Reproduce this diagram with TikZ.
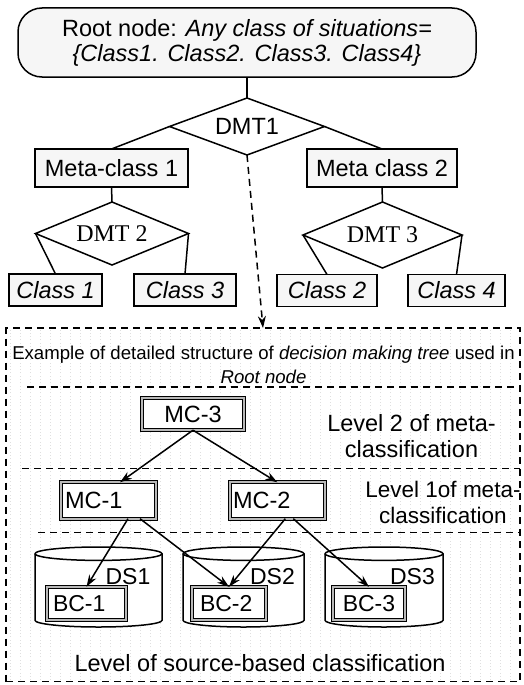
\documentclass[tikz,border=0pt]{standalone}
\usepackage{fontspec}
\setmainfont{Liberation Sans}
\newfontfamily\dmtfont{Liberation Serif}
\usetikzlibrary{shapes.geometric,arrows.meta,calc}

\begin{document}
\begin{tikzpicture}[x=1pt,y=-1pt,
  every node/.style={inner sep=0pt, outer sep=0pt},
  big/.style={font=\fontsize{23.5}{25}\selectfont},
  mid/.style={font=\fontsize{23}{25}\selectfont},
  plainbox/.style={draw, line width=1.5pt, fill=gray!7, big},
  choice/.style={diamond, draw, line width=1.5pt, fill=white},
  dmtlabel/.style={font=\dmtfont\fontsize{24}{26}\selectfont},
  dblbox/.style={draw, line width=1.1pt, double=gray!55, double distance=1.8pt,
                 fill=white, big, align=left},
  link/.style={line width=1.5pt},
  arr/.style={line width=1.5pt, -{Stealth[length=12pt,width=8pt]}},
  dashrule/.style={line width=1.5pt, dash pattern=on 7pt off 5pt},
]
\useasboundingbox (0,0) rectangle (524,685);

% ---------------- upper tree ----------------
\node[plainbox, rounded corners=24pt, minimum width=458pt, minimum height=69pt,
      align=center] (root) at (247,42.5)
  {Root node: \textit{Any class of situations=}\\\textit{\{Class1. Class2. Class3. Class4\}}};

\node[choice, aspect=2.7, minimum width=155pt, minimum height=57pt, big]
  (dmt1) at (247,126.5) {DMT1};

\node[plainbox, minimum width=153pt, minimum height=38pt] (meta1) at (111.5,168) {Meta-class 1};
\node[plainbox, minimum width=150pt, minimum height=38pt] (meta2) at (382,168) {Meta class 2};

\node[choice, aspect=2.4, minimum width=153pt, minimum height=63pt, dmtlabel]
  (dmt2) at (112,233.5) {DMT 2};
\node[choice, aspect=2.4, minimum width=159pt, minimum height=66pt, dmtlabel]
  (dmt3) at (382.5,235) {DMT 3};

\node[plainbox, minimum width=93pt,  minimum height=32pt] (class1) at (55.5,290)  {\textit{Class 1}};
\node[plainbox, minimum width=102pt, minimum height=32pt] (class3) at (185,290)   {\textit{Class 3}};
\node[plainbox, minimum width=100pt, minimum height=32pt] (class2) at (327,290.5) {\textit{Class 2}};
\node[plainbox, minimum width=97pt,  minimum height=32pt] (class4) at (456.5,290.5) {\textit{Class 4}};

\draw[link] (root.south) -- (dmt1.north);
\draw[link] (dmt1.west) -- (meta1.north);
\draw[link] (dmt1.east) -- (meta2.north);
\draw[link] (meta1.south) -- (dmt2.north);
\draw[link] (meta2.south) -- (dmt3.north);
\draw[link] (dmt2.west) -- (class1.north);
\draw[link] (dmt2.east) -- (class3.north);
\draw[link] (dmt3.west) -- (class2.north);
\draw[link] (dmt3.east) -- (class4.north);

% ---------------- detail panel ----------------
\begin{scope}
  \clip (6,328) rectangle (520,681.5);
  \draw[gray!25, line width=0.5pt, dash pattern=on 0.8pt off 2.5pt]
    (0,320) grid[step=10] (530,690);
\end{scope}
\node[draw, dashrule, minimum width=514pt, minimum height=353.5pt]
  (panel) at (263,504.75) {};

\draw[arr, dash pattern=on 7pt off 5pt] (dmt1.south) -- (panel.north);

\node[font=\fontsize{18.6}{24}\selectfont, align=center] (caption) at (263.5,364.6)
  {Example of detailed structure of \textit{decision making tree} used in\\\textit{Root node}};

\draw[dashrule] (27,387) -- (panel.east |- 0,387);
\draw[dashrule] (22,468.3) -- (panel.east |- 0,468.3);
\draw[dashrule] (38,532.7) -- (panel.east |- 0,532.7);

\node[font=\fontsize{23.5}{26}\selectfont, align=center] (lvl2) at (411.5,436.5)
  {Level 2 of meta-\\classification};
\node[font=\fontsize{22.5}{25.7}\selectfont, align=center] (lvl1) at (443,502.7)
  {Level 1of meta-\\classification};

% classifiers of the meta levels
\node[dblbox, align=center, minimum width=102.4pt, minimum height=32.4pt] (mc3) at (193,414) {MC-3};
\node[dblbox, inner xsep=4.2pt, text width=87pt, minimum height=36.4pt] (mc1) at (108.5,500.5) {MC-1};
\node[dblbox, inner xsep=3.2pt, text width=88.6pt, minimum height=36.4pt] (mc2) at (277.3,500.5) {MC-2};

% data sources
\draw[link, fill=white] (35,553.7) -- (35,620.3)
  arc[start angle=180, end angle=360, x radius=63.5pt, y radius=6.7pt] -- (162,553.7)
  arc[start angle=0, end angle=180, x radius=63.5pt, y radius=6.7pt] -- cycle;
\draw[link] (35,553.7) arc[start angle=180, end angle=360, x radius=63.5pt, y radius=6.7pt];

\draw[link, fill=white] (183,553.7) -- (183,620.3)
  arc[start angle=180, end angle=360, x radius=60.5pt, y radius=6.7pt] -- (304,553.7)
  arc[start angle=0, end angle=180, x radius=60.5pt, y radius=6.7pt] -- cycle;
\draw[link] (183,553.7) arc[start angle=180, end angle=360, x radius=60.5pt, y radius=6.7pt];

\draw[link, fill=white] (325,553.7) -- (325,620.3)
  arc[start angle=180, end angle=360, x radius=59pt, y radius=6.7pt] -- (443,553.7)
  arc[start angle=0, end angle=180, x radius=59pt, y radius=6.7pt] -- cycle;
\draw[link] (325,553.7) arc[start angle=180, end angle=360, x radius=59pt, y radius=6.7pt];

\node[mid, anchor=base] (ds1) at (128,584) {DS1};
\node[mid, anchor=base] (ds2) at (272.5,584) {DS2};
\node[mid, anchor=base] (ds3) at (412.5,584) {DS3};

% base classifiers
\node[dblbox, mid, inner xsep=6.2pt, text width=67pt, minimum height=33.4pt] (bc1) at (86.5,603.5) {BC-1};
\node[dblbox, mid, inner xsep=8.2pt, text width=58pt, minimum height=33.4pt] (bc2) at (229,603.5) {BC-2};
\node[dblbox, mid, inner xsep=9.95pt, text width=52.5pt, minimum height=33.4pt] (bc3) at (369,603.5) {BC-3};

\draw[arr] (mc3.south) -- ([xshift=11.5pt]mc1.north);
\draw[arr] (mc3.south) -- (mc2.north);
\draw[arr] ([xshift=19.5pt]mc1.south) -- (bc1.north);
\draw[arr] ([xshift=31.5pt]mc1.south) -- (bc2.north);
\draw[arr] ([xshift=8pt]mc2.south) -- (bc2.north);
\draw[arr] ([xshift=16pt]mc2.south) -- (bc3.north);

\node[big, anchor=base] (lvl0) at (260,671.5) {Level of source-based classification};
\end{tikzpicture}
\end{document}
